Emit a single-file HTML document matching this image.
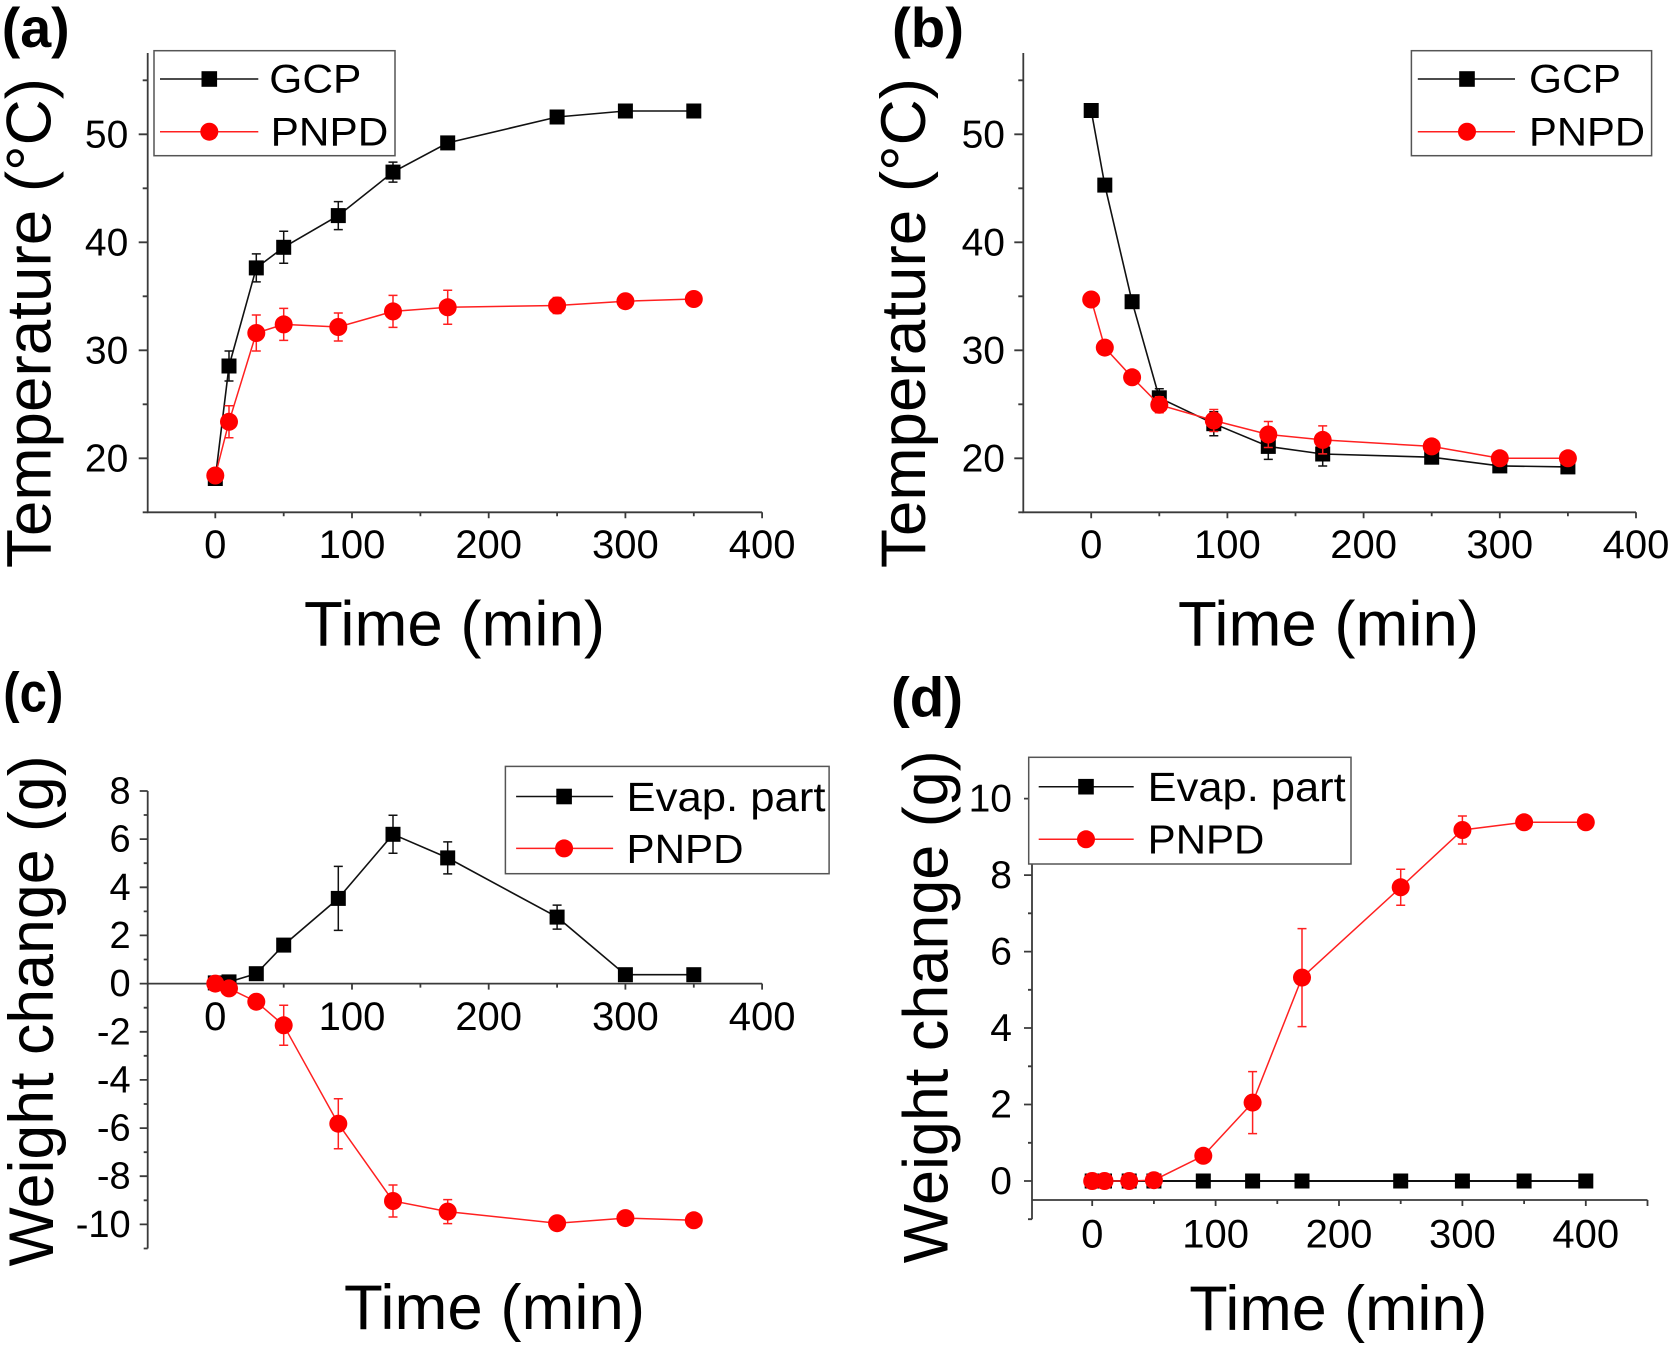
<!DOCTYPE html>
<html><head><meta charset="utf-8"><style>
html,body{margin:0;padding:0;background:#fff;}
svg{display:block;}
text{font-family:"Liberation Sans",Arial,sans-serif;fill:#000;}
</style></head><body>
<svg width="1673" height="1345" viewBox="0 0 1673 1345" xmlns="http://www.w3.org/2000/svg">
<defs>
<rect id="sq" x="-7.5" y="-7.5" width="15" height="15" fill="#000"/>
<circle id="ci" r="9" fill="#ff0000"/>
</defs>
<rect width="1673" height="1345" fill="#fff"/>

<!-- Panel labels -->
<g font-weight="bold" font-size="56">
<text x="1.7" y="47" textLength="68" lengthAdjust="spacingAndGlyphs">(a)</text>
<text x="892" y="47" textLength="72" lengthAdjust="spacingAndGlyphs">(b)</text>
<text x="3.3" y="711.7" textLength="60" lengthAdjust="spacingAndGlyphs">(c)</text>
<text x="891" y="716.7" textLength="72" lengthAdjust="spacingAndGlyphs">(d)</text>
</g>

<!-- ================= PANEL A ================= -->
<g stroke="#3a3a3a" stroke-width="1.8" fill="none">
<path d="M147.7 53 V512.3 H762.1"/>
<path d="M215.3 512.3 v6 M352 512.3 v6 M488.7 512.3 v6 M625.4 512.3 v6 M762.1 512.3 v6"/>
<path d="M283.7 512.3 v4 M420.4 512.3 v4 M557.1 512.3 v4 M693.8 512.3 v4"/>
<path d="M147.7 134.3 h-9 M147.7 242.3 h-9 M147.7 350.3 h-9 M147.7 458.3 h-9"/>
<path d="M147.7 80.3 h-5 M147.7 188.3 h-5 M147.7 296.3 h-5 M147.7 404.3 h-5 M147.7 512.3 h-5"/>
</g>
<g font-size="39" text-anchor="end">
<text x="128.3" y="147.3">50</text><text x="128.3" y="255.3">40</text><text x="128.3" y="363.3">30</text><text x="128.3" y="471.3">20</text>
</g>
<g font-size="40" text-anchor="middle">
<text x="215.3" y="558">0</text><text x="352" y="558">100</text><text x="488.7" y="558">200</text><text x="625.4" y="558">300</text><text x="762.1" y="558">400</text>
</g>
<text x="304" y="645.5" font-size="63" textLength="301" lengthAdjust="spacingAndGlyphs">Time (min)</text>
<text transform="translate(50.5,568) rotate(-90)" font-size="63" textLength="490" lengthAdjust="spacingAndGlyphs">Temperature (°C)</text>

<!-- GCP a -->
<polyline fill="none" stroke="#111" stroke-width="1.6" points="215.3,478.5 229,366 256.3,267.9 283.7,247.3 338.3,215.6 393,172.1 447.7,142.9 557.1,117 625.4,111 693.8,111"/>
<path stroke="#111" stroke-width="1.5" fill="none" d="M229 351v30M224.5 351h9M224.5 381h9 M256.3 253.9v28M251.8 253.9h9M251.8 281.9h9 M283.7 231.3v32M279.2 231.3h9M279.2 263.3h9 M338.3 201.6v28M333.8 201.6h9M333.8 229.6h9 M393 162.1v20M388.5 162.1h9M388.5 182.1h9 M447.7 137.9v10M443.2 137.9h9M443.2 147.9h9 M557.1 113v8M552.6 113h9M552.6 121h9"/>
<g>
<use href="#sq" x="215.3" y="478.5"/><use href="#sq" x="229" y="366"/><use href="#sq" x="256.3" y="267.9"/><use href="#sq" x="283.7" y="247.3"/><use href="#sq" x="338.3" y="215.6"/><use href="#sq" x="393" y="172.1"/><use href="#sq" x="447.7" y="142.9"/><use href="#sq" x="557.1" y="117"/><use href="#sq" x="625.4" y="111"/><use href="#sq" x="693.8" y="111"/>
</g>
<!-- PNPD a -->
<polyline fill="none" stroke="#ff2020" stroke-width="1.5" points="215.3,475.5 229,421.8 256.3,333 283.7,324.4 338.3,327 393,311.4 447.7,307.3 557.1,305.5 625.4,301.2 693.8,299"/>
<path stroke="#ff2020" stroke-width="1.5" fill="none" d="M229 405.8v32M224.5 405.8h9M224.5 437.8h9 M256.3 315v36M251.8 315h9M251.8 351h9 M283.7 308.4v32M279.2 308.4h9M279.2 340.4h9 M338.3 313v28M333.8 313h9M333.8 341h9 M393 295.4v32M388.5 295.4h9M388.5 327.4h9 M447.7 290.3v34M443.2 290.3h9M443.2 324.3h9 M557.1 297.5v16M552.6 297.5h9M552.6 313.5h9"/>
<g>
<use href="#ci" x="215.3" y="475.5"/><use href="#ci" x="229" y="421.8"/><use href="#ci" x="256.3" y="333"/><use href="#ci" x="283.7" y="324.4"/><use href="#ci" x="338.3" y="327"/><use href="#ci" x="393" y="311.4"/><use href="#ci" x="447.7" y="307.3"/><use href="#ci" x="557.1" y="305.5"/><use href="#ci" x="625.4" y="301.2"/><use href="#ci" x="693.8" y="299"/>
</g>
<!-- Legend a -->
<rect x="154" y="50.7" width="241" height="105" fill="#fff" stroke="#555" stroke-width="1.5"/>
<line x1="160" y1="79" x2="258.3" y2="79" stroke="#111" stroke-width="1.5"/>
<rect x="201.5" y="71.2" width="15.6" height="15.6" fill="#000"/>
<line x1="160" y1="131.7" x2="258.3" y2="131.7" stroke="#ff2020" stroke-width="1.5"/>
<circle cx="209.3" cy="131.7" r="9" fill="#ff0000"/>
<text x="269.3" y="92.5" font-size="40" textLength="92" lengthAdjust="spacingAndGlyphs">GCP</text>
<text x="270.7" y="145.5" font-size="40" textLength="117.6" lengthAdjust="spacingAndGlyphs">PNPD</text>

<!-- ================= PANEL B ================= -->
<g stroke="#3a3a3a" stroke-width="1.8" fill="none">
<path d="M1023.3 53 V512.3 H1636"/>
<path d="M1091.2 512.3 v6 M1227.4 512.3 v6 M1363.6 512.3 v6 M1499.8 512.3 v6 M1636 512.3 v6"/>
<path d="M1159.3 512.3 v4 M1295.5 512.3 v4 M1431.7 512.3 v4 M1567.9 512.3 v4"/>
<path d="M1023.3 134.3 h-9 M1023.3 242.3 h-9 M1023.3 350.3 h-9 M1023.3 458.3 h-9"/>
<path d="M1023.3 80.3 h-5 M1023.3 188.3 h-5 M1023.3 296.3 h-5 M1023.3 404.3 h-5 M1023.3 512.3 h-5"/>
</g>
<g font-size="39" text-anchor="end">
<text x="1005" y="147.3">50</text><text x="1005" y="255.3">40</text><text x="1005" y="363.3">30</text><text x="1005" y="471.3">20</text>
</g>
<g font-size="40" text-anchor="middle">
<text x="1091.2" y="558">0</text><text x="1227.4" y="558">100</text><text x="1363.6" y="558">200</text><text x="1499.8" y="558">300</text><text x="1636" y="558">400</text>
</g>
<text x="1178" y="645.5" font-size="63" textLength="301" lengthAdjust="spacingAndGlyphs">Time (min)</text>
<text transform="translate(925,568) rotate(-90)" font-size="63" textLength="490" lengthAdjust="spacingAndGlyphs">Temperature (°C)</text>

<!-- GCP b -->
<polyline fill="none" stroke="#111" stroke-width="1.6" points="1091.2,110.5 1104.8,185.1 1132.1,301.7 1159.3,397.8 1213.8,423.7 1268.3,446.4 1322.7,454 1431.7,457.2 1499.8,465.9 1567.9,466.9"/>
<path stroke="#111" stroke-width="1.5" fill="none" d="M1132.1 297.7v8M1127.6 297.7h9M1127.6 305.7h9 M1159.3 388.8v18M1154.8 388.8h9M1154.8 406.8h9 M1213.8 411.7v24M1209.3 411.7h9M1209.3 435.7h9 M1268.3 433.4v26M1263.8 433.4h9M1263.8 459.4h9 M1322.7 442v24M1318.2 442h9M1318.2 466h9 M1431.7 454.2v6M1499.8 462.9v6"/>
<g>
<use href="#sq" x="1091.2" y="110.5"/><use href="#sq" x="1104.8" y="185.1"/><use href="#sq" x="1132.1" y="301.7"/><use href="#sq" x="1159.3" y="397.8"/><use href="#sq" x="1213.8" y="423.7"/><use href="#sq" x="1268.3" y="446.4"/><use href="#sq" x="1322.7" y="454"/><use href="#sq" x="1431.7" y="457.2"/><use href="#sq" x="1499.8" y="465.9"/><use href="#sq" x="1567.9" y="466.9"/>
</g>
<!-- PNPD b -->
<polyline fill="none" stroke="#ff2020" stroke-width="1.5" points="1091.2,299.5 1104.8,347.6 1132.1,377.3 1159.3,404.8 1213.8,420.5 1268.3,434.5 1322.7,439.9 1431.7,446.4 1499.8,458.3 1567.9,458.3"/>
<path stroke="#ff2020" stroke-width="1.5" fill="none" d="M1159.3 396.8v16M1154.8 396.8h9M1154.8 412.8h9 M1213.8 409.5v22M1209.3 409.5h9M1209.3 431.5h9 M1268.3 421.5v26M1263.8 421.5h9M1263.8 447.5h9 M1322.7 425.9v28M1318.2 425.9h9M1318.2 453.9h9 M1431.7 443.4v6M1499.8 455.3v6"/>
<g>
<use href="#ci" x="1091.2" y="299.5"/><use href="#ci" x="1104.8" y="347.6"/><use href="#ci" x="1132.1" y="377.3"/><use href="#ci" x="1159.3" y="404.8"/><use href="#ci" x="1213.8" y="420.5"/><use href="#ci" x="1268.3" y="434.5"/><use href="#ci" x="1322.7" y="439.9"/><use href="#ci" x="1431.7" y="446.4"/><use href="#ci" x="1499.8" y="458.3"/><use href="#ci" x="1567.9" y="458.3"/>
</g>
<!-- Legend b -->
<rect x="1411.4" y="50.7" width="240.2" height="105" fill="#fff" stroke="#555" stroke-width="1.5"/>
<line x1="1417.8" y1="79" x2="1515" y2="79" stroke="#111" stroke-width="1.5"/>
<rect x="1459.2" y="71.2" width="15.6" height="15.6" fill="#000"/>
<line x1="1417.8" y1="131.7" x2="1515" y2="131.7" stroke="#ff2020" stroke-width="1.5"/>
<circle cx="1467" cy="131.7" r="9" fill="#ff0000"/>
<text x="1529" y="92.5" font-size="40" textLength="92" lengthAdjust="spacingAndGlyphs">GCP</text>
<text x="1529" y="145.5" font-size="40" textLength="116" lengthAdjust="spacingAndGlyphs">PNPD</text>

<!-- ================= PANEL C ================= -->
<g stroke="#3a3a3a" stroke-width="1.8" fill="none">
<path d="M147.7 791 V1248.5"/>
<path d="M147.7 983.6 H762.1"/>
<path d="M215.3 983.6 v6 M352 983.6 v6 M488.7 983.6 v6 M625.4 983.6 v6 M762.1 983.6 v6"/>
<path d="M283.7 983.6 v4 M420.4 983.6 v4 M557.1 983.6 v4 M693.8 983.6 v4"/>
<path d="M147.7 791 h-8 M147.7 839.1 h-8 M147.7 887.3 h-8 M147.7 935.4 h-8 M147.7 983.6 h-8 M147.7 1031.8 h-8 M147.7 1079.9 h-8 M147.7 1128.1 h-8 M147.7 1176.2 h-8 M147.7 1224.4 h-8"/>
<path d="M147.7 815 h-4 M147.7 863.2 h-4 M147.7 911.4 h-4 M147.7 959.5 h-4 M147.7 1007.7 h-4 M147.7 1055.8 h-4 M147.7 1104 h-4 M147.7 1152.2 h-4 M147.7 1200.3 h-4 M147.7 1248.5 h-4"/>
</g>
<g font-size="38" text-anchor="end">
<text x="130.7" y="803.5">8</text><text x="130.7" y="851.6">6</text><text x="130.7" y="899.8">4</text><text x="130.7" y="947.9">2</text><text x="130.7" y="996.1">0</text><text x="130.7" y="1044.3">-2</text><text x="130.7" y="1092.4">-4</text><text x="130.7" y="1140.6">-6</text><text x="130.7" y="1188.7">-8</text><text x="130.7" y="1236.9">-10</text>
</g>
<g font-size="40" text-anchor="middle">
<text x="215.3" y="1030">0</text><text x="352" y="1030">100</text><text x="488.7" y="1030">200</text><text x="625.4" y="1030">300</text><text x="762.1" y="1030">400</text>
</g>
<text x="344" y="1329" font-size="63" textLength="301" lengthAdjust="spacingAndGlyphs">Time (min)</text>
<text transform="translate(53,1266.4) rotate(-90)" font-size="63" textLength="511" lengthAdjust="spacingAndGlyphs">Weight change (g)</text>

<!-- Evap c -->
<polyline fill="none" stroke="#111" stroke-width="1.6" points="215.3,982.9 229,981.9 256.3,973.7 283.7,945.1 338.3,898.4 393,834.3 447.7,857.9 557.1,917.1 625.4,974.7 693.8,974.7"/>
<path stroke="#111" stroke-width="1.5" fill="none" d="M338.3 866.4v64M333.8 866.4h9M333.8 930.4h9 M393 815.3v38M388.5 815.3h9M388.5 853.3h9 M447.7 841.9v32M443.2 841.9h9M443.2 873.9h9 M557.1 905.1v24M552.6 905.1h9M552.6 929.1h9"/>
<g>
<use href="#sq" x="215.3" y="982.9"/><use href="#sq" x="229" y="981.9"/><use href="#sq" x="256.3" y="973.7"/><use href="#sq" x="283.7" y="945.1"/><use href="#sq" x="338.3" y="898.4"/><use href="#sq" x="393" y="834.3"/><use href="#sq" x="447.7" y="857.9"/><use href="#sq" x="557.1" y="917.1"/><use href="#sq" x="625.4" y="974.7"/><use href="#sq" x="693.8" y="974.7"/>
</g>
<!-- PNPD c -->
<polyline fill="none" stroke="#ff2020" stroke-width="1.5" points="215.3,983.6 229,988.4 256.3,1001.7 283.7,1025.3 338.3,1123.7 393,1201 447.7,1211.6 557.1,1223.2 625.4,1218.1 693.8,1220.3"/>
<path stroke="#ff2020" stroke-width="1.5" fill="none" d="M283.7 1005.3v40M279.2 1005.3h9M279.2 1045.3h9 M338.3 1098.7v50M333.8 1098.7h9M333.8 1148.7h9 M393 1185v32M388.5 1185h9M388.5 1217h9 M447.7 1199.6v24M443.2 1199.6h9M443.2 1223.6h9 M256.3 998.7v6M557.1 1220.2v6M625.4 1215.1v6"/>
<g>
<use href="#ci" x="215.3" y="983.6"/><use href="#ci" x="229" y="988.4"/><use href="#ci" x="256.3" y="1001.7"/><use href="#ci" x="283.7" y="1025.3"/><use href="#ci" x="338.3" y="1123.7"/><use href="#ci" x="393" y="1201"/><use href="#ci" x="447.7" y="1211.6"/><use href="#ci" x="557.1" y="1223.2"/><use href="#ci" x="625.4" y="1218.1"/><use href="#ci" x="693.8" y="1220.3"/>
</g>
<!-- Legend c -->
<rect x="505.4" y="766.4" width="323.7" height="107.3" fill="#fff" stroke="#555" stroke-width="1.5"/>
<line x1="516.1" y1="796.5" x2="613.1" y2="796.5" stroke="#111" stroke-width="1.5"/>
<rect x="556.3" y="788.7" width="15.6" height="15.6" fill="#000"/>
<line x1="516.1" y1="848.4" x2="613.1" y2="848.4" stroke="#ff2020" stroke-width="1.5"/>
<circle cx="564.1" cy="848.4" r="9" fill="#ff0000"/>
<text x="626.5" y="811" font-size="41" textLength="199" lengthAdjust="spacingAndGlyphs">Evap. part</text>
<text x="626.5" y="863" font-size="41" textLength="117" lengthAdjust="spacingAndGlyphs">PNPD</text>

<!-- ================= PANEL D ================= -->
<g stroke="#3a3a3a" stroke-width="1.8" fill="none">
<path d="M1032 760.4 V1219.2"/>
<path d="M1032 1200 H1647.5"/>
<path d="M1092.2 1200 v6 M1215.6 1200 v6 M1339 1200 v6 M1462.4 1200 v6 M1585.8 1200 v6"/>
<path d="M1153.9 1200 v4 M1277.3 1200 v4 M1400.7 1200 v4 M1524.1 1200 v4 M1647.5 1200 v6"/>
<path d="M1032 1181 h-8 M1032 1104.5 h-8 M1032 1028 h-8 M1032 951.6 h-8 M1032 875.1 h-8 M1032 798.6 h-8"/>
<path d="M1032 1219.2 h-4 M1032 1142.8 h-4 M1032 1066.3 h-4 M1032 989.8 h-4 M1032 913.3 h-4 M1032 836.8 h-4 M1032 760.4 h-4"/>
</g>
<g font-size="39" text-anchor="end">
<text x="1012" y="1194">0</text><text x="1012" y="1117.5">2</text><text x="1012" y="1041">4</text><text x="1012" y="964.6">6</text><text x="1012" y="888.1">8</text><text x="1012" y="811.6">10</text>
</g>
<g font-size="40" text-anchor="middle">
<text x="1092.2" y="1247.5">0</text><text x="1215.6" y="1247.5">100</text><text x="1339" y="1247.5">200</text><text x="1462.4" y="1247.5">300</text><text x="1585.8" y="1247.5">400</text>
</g>
<text x="1189.3" y="1330" font-size="63" textLength="298" lengthAdjust="spacingAndGlyphs">Time (min)</text>
<text transform="translate(947.7,1263.3) rotate(-90)" font-size="63" textLength="513" lengthAdjust="spacingAndGlyphs">Weight change (g)</text>

<!-- Evap d -->
<line x1="1092.2" y1="1181" x2="1585.8" y2="1181" stroke="#111" stroke-width="2"/>
<g>
<use href="#sq" x="1092.2" y="1181"/><use href="#sq" x="1104.5" y="1181"/><use href="#sq" x="1129.2" y="1181"/><use href="#sq" x="1153.9" y="1181"/><use href="#sq" x="1203.3" y="1181"/><use href="#sq" x="1252.6" y="1181"/><use href="#sq" x="1302" y="1181"/><use href="#sq" x="1400.7" y="1181"/><use href="#sq" x="1462.4" y="1181"/><use href="#sq" x="1524.1" y="1181"/><use href="#sq" x="1585.8" y="1181"/>
</g>
<!-- PNPD d -->
<polyline fill="none" stroke="#ff2020" stroke-width="1.5" points="1092.2,1181 1104.5,1181 1129.2,1181 1153.9,1180.2 1203.3,1155.8 1252.6,1102.6 1302,977.6 1400.7,887.3 1462.4,830 1524.1,822.3 1585.8,822.3"/>
<path stroke="#ff2020" stroke-width="1.5" fill="none" d="M1252.6 1071.6v62M1248.1 1071.6h9M1248.1 1133.6h9 M1302 928.6v98M1297.5 928.6h9M1297.5 1026.6h9 M1400.7 869.3v36M1396.2 869.3h9M1396.2 905.3h9 M1462.4 816v28M1457.9 816h9M1457.9 844h9 M1203.3 1152.8v6"/>
<g>
<use href="#ci" x="1092.2" y="1181"/><use href="#ci" x="1104.5" y="1181"/><use href="#ci" x="1129.2" y="1181"/><use href="#ci" x="1153.9" y="1180.2"/><use href="#ci" x="1203.3" y="1155.8"/><use href="#ci" x="1252.6" y="1102.6"/><use href="#ci" x="1302" y="977.6"/><use href="#ci" x="1400.7" y="887.3"/><use href="#ci" x="1462.4" y="830"/><use href="#ci" x="1524.1" y="822.3"/><use href="#ci" x="1585.8" y="822.3"/>
</g>
<!-- Legend d -->
<rect x="1028.7" y="757.3" width="322.3" height="106.7" fill="#fff" stroke="#555" stroke-width="1.5"/>
<line x1="1038.7" y1="786.7" x2="1133.7" y2="786.7" stroke="#111" stroke-width="1.5"/>
<rect x="1078.2" y="778.9" width="15.6" height="15.6" fill="#000"/>
<line x1="1038.7" y1="839.3" x2="1133.7" y2="839.3" stroke="#ff2020" stroke-width="1.5"/>
<circle cx="1086" cy="839.3" r="9" fill="#ff0000"/>
<text x="1147.7" y="801" font-size="41" textLength="198" lengthAdjust="spacingAndGlyphs">Evap. part</text>
<text x="1147.7" y="853.3" font-size="41" textLength="116.7" lengthAdjust="spacingAndGlyphs">PNPD</text>

</svg>
</body></html>
